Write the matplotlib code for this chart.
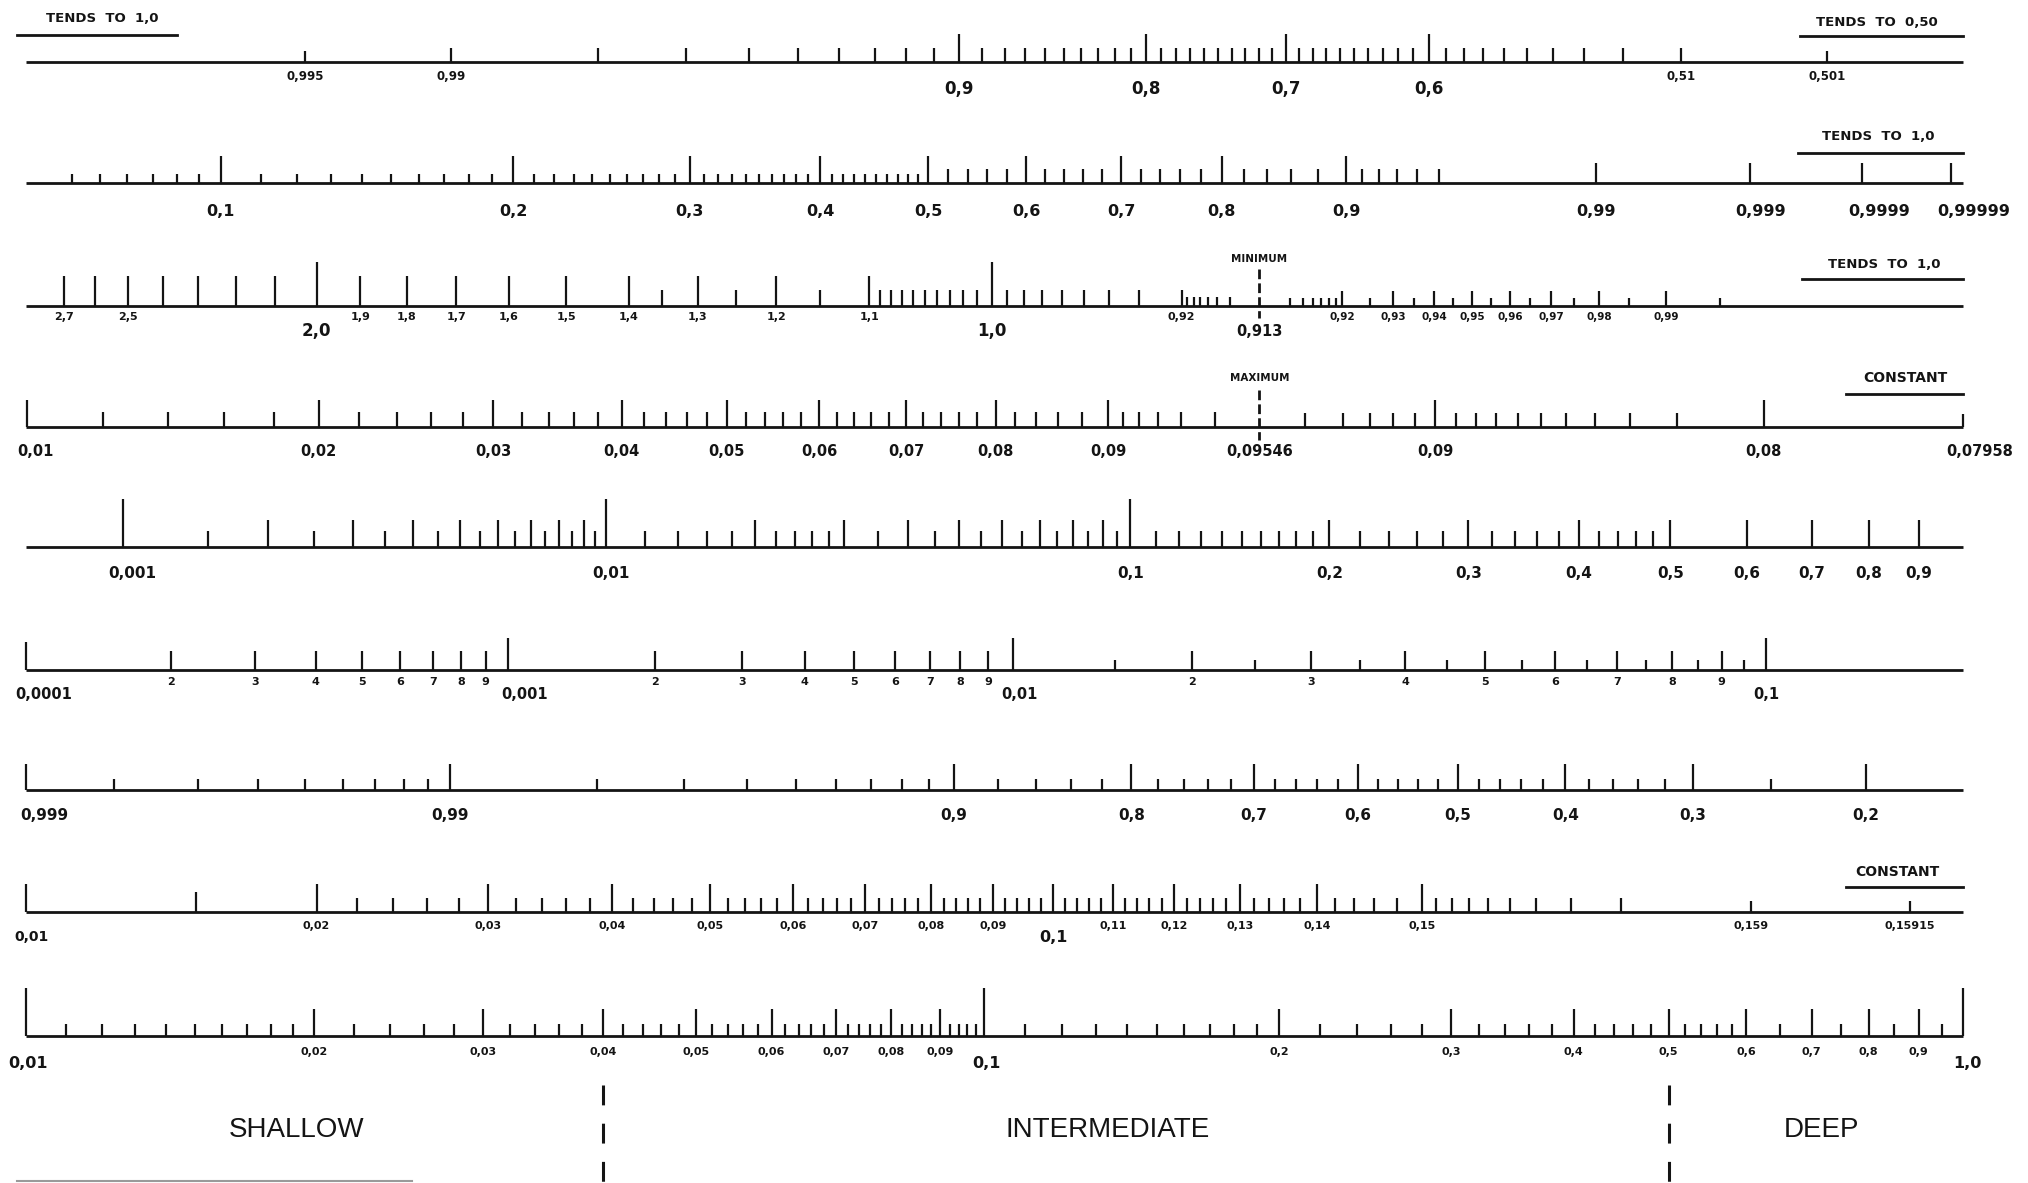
import numpy as np
import matplotlib
matplotlib.use("Agg")
import matplotlib.pyplot as plt
from matplotlib.lines import Line2D

W, H, DPI = 2028, 1183, 100
INK = "#141414"
plt.rcParams["font.family"] = ["DejaVu Sans"]


def graduation(a, b, step):
    """Evenly spaced graduation values from a to b inclusive."""
    n = int(round((b - a) / step))
    return [round(a + i * step, 7) for i in range(n + 1)]


def subdivide(majors, step):
    """Intermediate graduations between consecutive major values."""
    majors = sorted(majors)
    out = []
    for a, b in zip(majors[:-1], majors[1:]):
        out += graduation(a + step, b - step, step)
    return out


# ---------------------------------------------------------------- scale data
# Row 1 : n = Cg / C
ROW1_LONG = [0.9, 0.8, 0.7, 0.6]
ROW1_MID = [0.99, 0.51] + subdivide([0.51, 0.6, 0.7, 0.8, 0.9, 0.99], 0.01)
ROW1_SHORT = [0.995, 0.501]
ROW1_LABELS_SMALL = [(0.995, "0,995"), (0.99, "0,99"), (0.51, "0,51"), (0.501, "0,501")]
ROW1_LABELS_BIG = [(0.9, "0,9"), (0.8, "0,8"), (0.7, "0,7"), (0.6, "0,6")]

# Row 2 : tanh(2 pi d/L)
ROW2_LONG = graduation(0.1, 0.9, 0.1)
ROW2_TAIL = [0.99, 0.999, 0.9999, 0.99999]
ROW2_MID = subdivide(graduation(0.5, 0.9, 0.1), 0.02) + subdivide([0.9, 0.96], 0.01)
ROW2_SHORT = graduation(0.07, 0.095, 0.005) + subdivide(graduation(0.1, 0.5, 0.1), 0.01)
ROW2_LABELS = [(v, f"0,{int(round(v * 10))}") for v in ROW2_LONG] + [(0.99, "0,99")]
ROW2_LABELS_TAIL = [(0.999, "0,999"), (0.9999, "0,9999"), (0.99999, "0,99999")]

# Row 3 : shoaling coefficient H / H0'
ROW3_TALL = [2.0, 1.0]
ROW3_LONG = [2.7, 2.6, 2.5, 2.4, 2.3, 2.2, 2.1, 1.9, 1.8, 1.7, 1.6, 1.5, 1.4, 1.3, 1.2, 1.1]
ROW3_MID_SHALLOW = [1.35, 1.25, 1.15] + subdivide([1.0, 1.1], 0.01) + graduation(0.92, 0.99, 0.01)
ROW3_SHORT_SHALLOW = graduation(0.914, 0.919, 0.001)
ROW3_MID_DEEP = graduation(0.92, 0.99, 0.01)
ROW3_SHORT_DEEP = graduation(0.914, 0.919, 0.001) + subdivide(graduation(0.92, 1.0, 0.01), 0.005)
ROW3_LABELS_SHALLOW = [(2.7, "2,7"), (2.5, "2,5"), (1.9, "1,9"), (1.8, "1,8"), (1.7, "1,7"),
                       (1.6, "1,6"), (1.5, "1,5"), (1.4, "1,4"), (1.3, "1,3"), (1.2, "1,2"),
                       (1.1, "1,1"), (0.92, "0,92")]
ROW3_LABELS_DEEP = [(0.92, "0,92"), (0.93, "0,93"), (0.94, "0,94"), (0.95, "0,95"),
                    (0.96, "0,96"), (0.97, "0,97"), (0.98, "0,98"), (0.99, "0,99")]
ROW3_LABELS_BIG = [(2.0, "2,0"), (1.0, "1,0")]
ROW3_MINIMUM = "0,913"

# Row 4 : n tanh(kd) / 2 pi
ROW4_LONG_RISING = graduation(0.01, 0.09, 0.01)
ROW4_MINOR_RISING = subdivide(graduation(0.01, 0.09, 0.01), 0.002) + graduation(0.091, 0.095, 0.001)
ROW4_LONG_FALLING = [0.09, 0.08]
ROW4_MINOR_FALLING = graduation(0.091, 0.095, 0.001) + subdivide([0.08, 0.09], 0.001)
ROW4_LIMIT = 0.07958
ROW4_LABELS_RISING = [(v, f"0,0{int(round(v * 100))}") for v in ROW4_LONG_RISING]
ROW4_LABELS_FALLING = [(0.09, "0,09"), (0.08, "0,08")]
ROW4_MAXIMUM = "0,09546"

# Row 5 : d / L0
ROW5_XTALL = [0.001, 0.01, 0.1]
ROW5_LONG = graduation(0.002, 0.009, 0.001) + graduation(0.02, 0.09, 0.01) + graduation(0.2, 0.9, 0.1)
ROW5_SHORT = (subdivide(graduation(0.001, 0.01, 0.001), 0.0005) + subdivide([0.01, 0.02, 0.03], 0.002)
              + subdivide(graduation(0.03, 0.1, 0.01), 0.005) + subdivide([0.1, 0.2], 0.01)
              + subdivide(graduation(0.2, 0.5, 0.1), 0.02))
ROW5_LABELS = [(0.001, "0,001"), (0.01, "0,01")] + [(v, f"0,{int(round(v * 10))}") for v in graduation(0.1, 0.9, 0.1)]

# Row 6 : d / gT^2
ROW6_DECADES = [0.0001, 0.001, 0.01, 0.1]
ROW6_DIGITS = graduation(0.0002, 0.0009, 0.0001) + graduation(0.002, 0.009, 0.001) + graduation(0.02, 0.09, 0.01)
ROW6_HALVES = subdivide(graduation(0.01, 0.1, 0.01), 0.005)
ROW6_LABELS = [(0.0001, "0,0001"), (0.001, "0,001"), (0.01, "0,01"), (0.1, "0,1")]

# Row 7 : tanh(kd) / kd
ROW7_LONG = [0.999, 0.99, 0.9, 0.8, 0.7, 0.6, 0.5, 0.4, 0.3, 0.2]
ROW7_SHORT = (subdivide([0.99, 0.999], 0.001) + subdivide([0.9, 0.99], 0.01)
              + subdivide(graduation(0.3, 0.9, 0.1), 0.02) + [0.25])
ROW7_LABELS = [(0.999, "0,999"), (0.99, "0,99")] + [(v, f"0,{int(round(v * 10))}") for v in graduation(0.2, 0.9, 0.1)]

# Row 8 : C^2 / gL = tanh(kd) / 2 pi
ROW8_LONG = graduation(0.01, 0.15, 0.01)
ROW8_MID = [0.015]
ROW8_SHORT = subdivide(graduation(0.02, 0.15, 0.01), 0.002) + subdivide([0.15, 0.159], 0.001)
ROW8_TAIL = [0.159, 0.15915]
ROW8_LABELS_SMALL = ([(v, f"0,0{int(round(v * 100))}") for v in graduation(0.02, 0.09, 0.01)]
                     + [(v, f"0,{int(round(v * 100))}") for v in graduation(0.11, 0.15, 0.01)]
                     + [(0.159, "0,159"), (0.15915, "0,15915")])

# Row 9 : d / L
ROW9_XTALL = [0.01, 0.1, 1.0]
ROW9_LONG = graduation(0.02, 0.09, 0.01) + graduation(0.2, 0.9, 0.1)
ROW9_SHORT = (subdivide([0.01, 0.02], 0.001) + subdivide(graduation(0.02, 0.1, 0.01), 0.002)
              + subdivide([0.1, 0.2], 0.01) + subdivide(graduation(0.2, 0.6, 0.1), 0.02)
              + subdivide(graduation(0.6, 1.0, 0.1), 0.05))
ROW9_LABELS_SMALL = ([(v, f"0,0{int(round(v * 100))}") for v in graduation(0.02, 0.09, 0.01)]
                     + [(v, f"0,{int(round(v * 10))}") for v in graduation(0.2, 0.9, 0.1)])

ZONE_LIMITS = [0.04, 0.5]
ZONES = ["SHALLOW", "INTERMEDIATE", "DEEP"]
SCALE_RANGE = (0.01, 1.0)

# --------------------------------------------------- linear wave relations
DL = np.logspace(-2.6, 0.5, 80001)
KD = 2 * np.pi * DL
TANH = np.tanh(KD)
N = 0.5 * (1 + 2 * KD / np.sinh(2 * KD))
FUNCS = {
    "n": N,
    "tanh": TANH,
    "ks": 1 / np.sqrt(2 * N * TANH),
    "cgc": N * TANH / (2 * np.pi),
    "dl0": DL * TANH,
    "dgt2": DL * TANH / (2 * np.pi),
    "tanhkd": TANH / KD,
    "c2gl": TANH / (2 * np.pi),
    "dl": DL,
}
I_EXT = {"ks": int(np.argmin(FUNCS["ks"])), "cgc": int(np.argmax(FUNCS["cgc"]))}


def locate(values, key, branch=None):
    f, x = FUNCS[key], DL
    if branch is not None:
        i = I_EXT[key]
        f, x = (f[:i + 1], x[:i + 1]) if branch == "shallow" else (f[i:], x[i:])
    if f[0] > f[-1]:
        f, x = f[::-1], x[::-1]
    pos = 10 ** np.interp(np.asarray(values, float), f, np.log10(x))
    return np.clip(pos, *SCALE_RANGE)


# --------------------------------------------------------------- d/L scale
A0, A1, A2 = 25.9, 984.3, 1963.4   # figure pixels of d/L = 0.01, 0.1, 1.0


def fwd(v):
    u = np.log10(np.clip(np.asarray(v, float), 1e-12, None)) + 2
    return np.where(u <= 1, A0 + (A1 - A0) * u, A1 + (A2 - A1) * (u - 1))


def inv(p):
    p = np.asarray(p, float)
    u = np.where(p <= A1, (p - A0) / (A1 - A0), 1 + (p - A1) / (A2 - A1))
    return 10 ** (u - 2)


fig = plt.figure(figsize=(W / DPI, H / DPI), dpi=DPI)
fig.patch.set_facecolor("white")
ax = fig.add_axes([0, 0, 1, 1])
ax.set_xscale("function", functions=(fwd, inv))
ax.set_xlim(float(inv(0)), float(inv(W)))
ax.set_ylim(H, 0)
ax.axis("off")

BASE = [62, 183, 306, 427, 547, 670, 790, 912, 1036]


def baseline(y):
    ax.hlines(y, *SCALE_RANGE, color=INK, lw=2.0, zorder=3)


def ticks(values, key, y, h, branch=None, lw=1.6):
    xs = locate(values, key, branch)
    ax.vlines(xs, y, y - h, color=INK, lw=lw, zorder=3)


def labels(items, key, y, size, branch=None, ha="center", dx=0):
    for item in items:
        v, t = item[0], item[1]
        off = item[2] if len(item) > 2 else dx
        x = locate([v], key, branch)[0]
        ax.annotate(t, (x, y), xytext=(off * 72 / DPI, 0), textcoords="offset points",
                    ha=ha, va="center", fontsize=size, fontweight="bold", color=INK)


def fig_text(x, y, s, size, weight="bold", **kw):
    fig.text(x / W, 1 - y / H, s, fontsize=size, fontweight=weight, color=INK,
             ha="center", va="center", **kw)


def fig_rule(x0, x1, y, lw=2.0):
    fig.add_artist(Line2D([x0 / W, x1 / W], [1 - y / H] * 2, transform=fig.transFigure,
                          color=INK, lw=lw))


def extremum_mark(key, y0, y1):
    x = DL[I_EXT[key]]
    ax.vlines([x], y0, y1, color=INK, lw=2.0, linestyles=(0, (3.5, 1.5)), zorder=3)
    return x


for y in BASE:
    baseline(y)

HEAD = 9.5

# Row 1
y = BASE[0]
ticks(ROW1_LONG, "n", y, 28)
ticks(ROW1_MID, "n", y, 14)
ticks(ROW1_SHORT, "n", y, 11)
labels(ROW1_LABELS_SMALL, "n", y + 14, 8.5)
labels(ROW1_LABELS_BIG, "n", y + 27, 12)
fig_text(102, 19, "TENDS  TO  1,0", HEAD)
fig_rule(17, 177, 35)
fig_text(1877, 22, "TENDS  TO  0,50", HEAD)
fig_rule(1800, 1963, 36)

# Row 2
y = BASE[1]
ticks(ROW2_LONG, "tanh", y, 27)
ticks(ROW2_TAIL, "tanh", y, 20)
ticks(ROW2_MID, "tanh", y, 14)
ticks(ROW2_SHORT, "tanh", y, 9)
labels(ROW2_LABELS, "tanh", y + 28, 11.5)
labels(ROW2_LABELS_TAIL, "tanh", y + 28, 11.5, ha="left", dx=-14)
fig_text(1878, 137, "TENDS  TO  1,0", HEAD)
fig_rule(1798, 1963, 153)

# Row 3
y = BASE[2]
ticks(ROW3_TALL, "ks", y, 44, branch="shallow")
ticks(ROW3_LONG, "ks", y, 30, branch="shallow")
ticks(ROW3_MID_SHALLOW, "ks", y, 16, branch="shallow")
ticks(ROW3_SHORT_SHALLOW, "ks", y, 9, branch="shallow")
ticks(ROW3_MID_DEEP, "ks", y, 15, branch="deep")
ticks(ROW3_SHORT_DEEP, "ks", y, 8, branch="deep")
labels(ROW3_LABELS_SHALLOW, "ks", y + 11, 8, branch="shallow")
labels(ROW3_LABELS_DEEP, "ks", y + 11, 7.5, branch="deep")
labels(ROW3_LABELS_BIG, "ks", y + 25, 12, branch="shallow")
xm = extremum_mark("ks", y - 37, y + 12)
ax.text(xm, y - 47, "MINIMUM", ha="center", va="center", fontsize=7.5, fontweight="bold", color=INK)
ax.text(xm, y + 25, ROW3_MINIMUM, ha="center", va="center", fontsize=10.5, fontweight="bold", color=INK)
fig_text(1884, 264, "TENDS  TO  1,0", HEAD)
fig_rule(1802, 1963, 279)

# Row 4
y = BASE[3]
ticks(ROW4_LONG_RISING, "cgc", y, 27, branch="shallow")
ticks(ROW4_MINOR_RISING, "cgc", y, 15, branch="shallow")
ticks(ROW4_LONG_FALLING, "cgc", y, 27, branch="deep")
ticks(ROW4_MINOR_FALLING, "cgc", y, 14, branch="deep")
ticks([ROW4_LIMIT], "cgc", y, 13, branch="deep")
labels([(0.01, "0,01", 8)] + ROW4_LABELS_RISING[1:], "cgc", y + 24, 10.5, branch="shallow")
labels(ROW4_LABELS_FALLING, "cgc", y + 24, 10.5, branch="deep")
labels([(ROW4_LIMIT, "0,07958", 16)], "cgc", y + 24, 10.5, branch="deep")
xm = extremum_mark("cgc", y - 37, y + 13)
ax.text(xm, y - 49, "MAXIMUM", ha="center", va="center", fontsize=7.5, fontweight="bold", color=INK)
ax.text(xm, y + 24, ROW4_MAXIMUM, ha="center", va="center", fontsize=10.5, fontweight="bold", color=INK)
fig_text(1905, 378, "CONSTANT", 10)
fig_rule(1846, 1963, 394)

# Row 5
y = BASE[4]
ticks(ROW5_XTALL, "dl0", y, 48)
ticks(ROW5_LONG, "dl0", y, 27)
ticks(ROW5_SHORT, "dl0", y, 16)
labels([(0.001, "0,001", 9), (0.01, "0,01", 5)], "dl0", y + 26, 11)
labels(ROW5_LABELS[2:], "dl0", y + 26, 11)

# Row 6
y = BASE[5]
ticks(ROW6_DECADES[:1], "dgt2", y, 28)
ticks(ROW6_DECADES[1:], "dgt2", y, 32)
ticks(ROW6_DIGITS, "dgt2", y, 19)
ticks(ROW6_HALVES, "dgt2", y, 10)
digits = [(v, str(int(round(v / 10 ** np.floor(np.log10(v) + 1e-9))))) for v in ROW6_DIGITS]
labels(digits, "dgt2", y + 12, 8)
labels([(0.0001, "0,0001", 18), (0.001, "0,001", 17), (0.01, "0,01", 6), (0.1, "0,1", 0)],
       "dgt2", y + 24, 10.5)

# Row 7
y = BASE[6]
ticks(ROW7_LONG, "tanhkd", y, 26)
ticks(ROW7_SHORT, "tanhkd", y, 11)
labels([(0.999, "0,999", 18)] + ROW7_LABELS[1:], "tanhkd", y + 25, 11)

# Row 8
y = BASE[7]
ticks(ROW8_LONG, "c2gl", y, 28)
ticks(ROW8_MID, "c2gl", y, 20)
ticks(ROW8_SHORT, "c2gl", y, 14)
ticks(ROW8_TAIL, "c2gl", y, 11)
labels(ROW8_LABELS_SMALL, "c2gl", y + 14, 8)
labels([(0.01, "0,01", 5)], "c2gl", y + 25, 10)
labels([(0.1, "0,1")], "c2gl", y + 25, 11.5)
fig_text(1897, 872, "CONSTANT", 10)
fig_rule(1846, 1963, 887)

# Row 9
y = BASE[8]
ticks(ROW9_XTALL, "dl", y, 48)
ticks(ROW9_LONG, "dl", y, 27)
ticks(ROW9_SHORT, "dl", y, 12)
labels(ROW9_LABELS_SMALL, "dl", y + 16, 8)
labels([(0.01, "0,01", 2), (0.1, "0,1", 2), (1.0, "1,0", 4)], "dl", y + 28, 11.5)

# Depth zones
ax.vlines(ZONE_LIMITS, 1085, 1195, color=INK, lw=2.2, linestyles=(0, (6.5, 6)), zorder=3)
for name, xp in zip(ZONES, [297, 1108, 1821]):
    fig_text(xp, 1130, name, 20, weight="normal", family="Liberation Sans")
fig.add_artist(Line2D([17 / W, 412 / W], [1 - 1181 / H] * 2, transform=fig.transFigure,
                      color="#9a9a9a", lw=1.5))

fig.savefig("out.png", dpi=DPI, facecolor="white")
